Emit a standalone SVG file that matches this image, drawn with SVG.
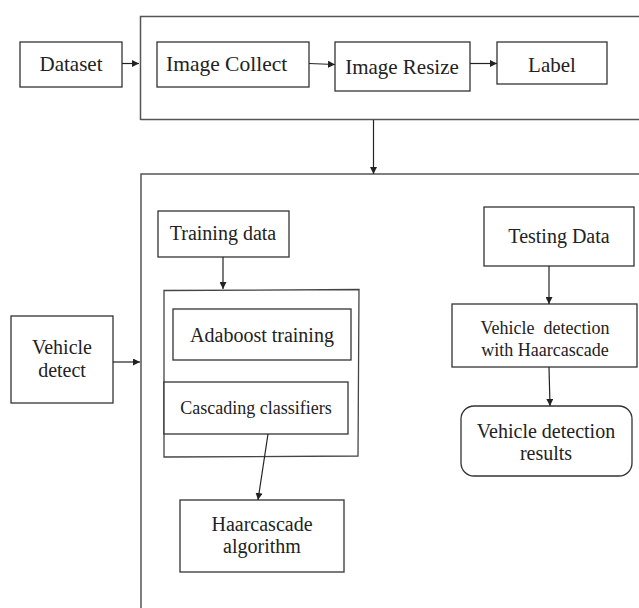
<svg xmlns="http://www.w3.org/2000/svg" width="639" height="608" viewBox="0 0 639 608">
<style>
.box{fill:#fff;stroke:#333;stroke-width:1.3}
.frame{fill:none;stroke:#555;stroke-width:1.5}
.t{font-family:"Liberation Serif","Times New Roman",serif;fill:#222;text-anchor:middle}
.s18{font-size:18px}.s20{font-size:20px}.s21{font-size:21px}.s22{font-size:21.5px}
.c{fill:none;stroke:#222;stroke-width:1.2;marker-end:url(#ah)}
</style>
<defs>
<marker id="ah" viewBox="0 0 10 10" refX="10" refY="5" markerWidth="7" markerHeight="7" markerUnits="userSpaceOnUse" orient="auto">
<path d="M0,0 L10,5 L0,10 z" fill="#222"/>
</marker>
</defs>
<rect width="639" height="608" fill="#fff"/>
<g id="preprocess-frame">
<path class="frame" d="M641,16.5 L140.5,16.5 L140.5,120 M140.5,119.5 L641,119.5"/>
</g>
<g id="detect-frame">
<path class="frame" d="M641,174 L141,174 L141,610"/>
</g>
<g id="training-group">
<path class="frame" d="M164,290.5 L359,289.5 L358,456 L164,457 Z" style="stroke:#444;stroke-width:1.3"/>
</g>
<g id="dataset"><rect class="box" x="20" y="42" width="102" height="45"/><text class="t s21" x="71" y="71">Dataset</text></g>
<g id="image-collect"><rect class="box" x="157" y="42" width="152" height="45"/><text class="t s22" x="166" y="71" style="text-anchor:start">Image Collect</text></g>
<g id="image-resize"><rect class="box" x="335" y="42" width="135" height="49"/><text class="t s21" x="402" y="74">Image Resize</text></g>
<g id="label"><rect class="box" x="497" y="42" width="110" height="42"/><text class="t s21" x="552" y="72">Label</text></g>
<g id="training-data"><rect class="box" x="158" y="211" width="131" height="46"/><text class="t s20" x="223" y="240">Training data</text></g>
<g id="adaboost"><rect class="box" x="173" y="309" width="178" height="51"/><text class="t s20" x="262" y="342">Adaboost training</text></g>
<g id="cascading"><rect class="box" x="164" y="382" width="184" height="52"/><text class="t s18" x="256" y="414">Cascading classifiers</text></g>
<g id="haarcascade"><rect class="box" x="180" y="500" width="164" height="72"/><text class="t s20" x="262" y="531">Haarcascade</text><text class="t s20" x="262" y="553">algorithm</text></g>
<g id="vehicle-detect"><rect class="box" x="11" y="316" width="102" height="87"/><text class="t s20" x="62" y="354">Vehicle</text><text class="t s20" x="62" y="377">detect</text></g>
<g id="testing-data"><rect class="box" x="484" y="207" width="150" height="59"/><text class="t s20" x="559" y="243">Testing Data</text></g>
<g id="vd-haar"><rect class="box" x="452" y="304" width="185" height="63"/><text class="t s18" x="545" y="334" xml:space="preserve">Vehicle  detection</text><text class="t s18" x="545" y="356">with Haarcascade</text></g>
<g id="vd-results"><rect class="box" x="461" y="406" width="171" height="70" rx="13"/><text class="t s20" x="546" y="438">Vehicle detection</text><text class="t s20" x="546" y="460">results</text></g>
<g id="connectors">
<line class="c" x1="122" y1="63.5" x2="139" y2="63.5"/>
<line class="c" x1="309" y1="63.5" x2="335" y2="64.5"/>
<line class="c" x1="470" y1="63.5" x2="497" y2="63.5"/>
<line class="c" x1="373.5" y1="120" x2="373.5" y2="174"/>
<line class="c" x1="223" y1="257" x2="223" y2="289"/>
<line class="c" x1="268" y1="434" x2="258" y2="500"/>
<line class="c" x1="113" y1="362" x2="140" y2="362"/>
<line class="c" x1="549" y1="266" x2="549" y2="304"/>
<line class="c" x1="549" y1="367" x2="550" y2="406"/>
</g>
</svg>
